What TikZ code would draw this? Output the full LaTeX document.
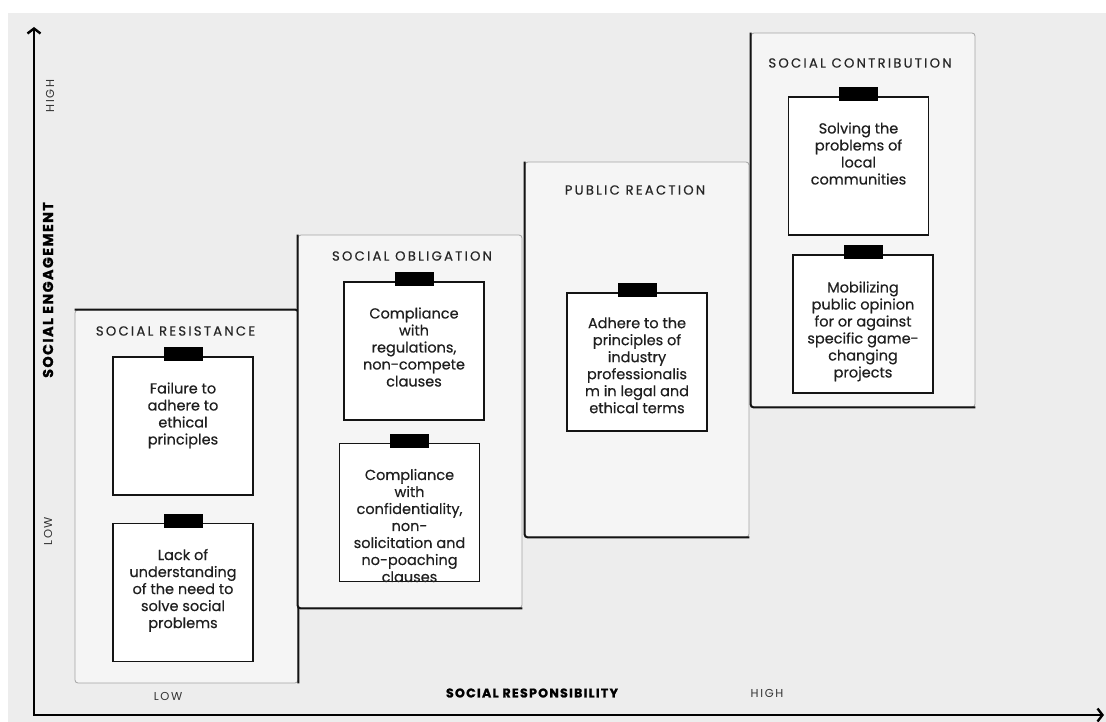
\documentclass[tikz,border=0pt]{standalone}
\usepackage{fontspec}
\setmainfont{Poppins}
\newfontfamily\notefont[FakeBold=0.4]{Poppins}
\newfontfamily\capsfont[LetterSpace=17, FakeBold=0.5]{Poppins}
\newfontfamily\axisfont[LetterSpace=10, FakeBold=1.2]{Poppins}
\newfontfamily\levelfont[LetterSpace=14]{Poppins}
\usepackage{xcolor}
\usepackage{tikz}
\usetikzlibrary{positioning, arrows.meta}
\definecolor{bggray}{HTML}{EDEDED}
\definecolor{panelgray}{HTML}{F5F5F5}
\definecolor{edgegray}{HTML}{A3A3A3}
\definecolor{inkblack}{HTML}{141414}

\tikzset{
  panel/.style={draw=edgegray, line width=0.8pt, fill=panelgray, rounded corners=3pt,
                inner sep=0pt, minimum width=224pt, minimum height=374pt},
  darkedge/.style={draw=inkblack, line width=2pt, rounded corners=3pt},
  paneltitle/.style={font=\capsfont\fontsize{13.2pt}{15pt}\selectfont, text=black!85, inner sep=0pt},
  note/.style={draw=inkblack, line width=1.5pt, fill=white, inner sep=0pt,
               minimum width=140pt, minimum height=138pt},
  tape/.style={fill=black, inner sep=0pt, minimum width=39pt, minimum height=14pt},
  notetext/.style={font=\notefont\fontsize{14.5pt}{17pt}\selectfont, text=black!88, align=center, inner sep=0pt},
  axislabel/.style={font=\axisfont\bfseries\fontsize{13pt}{15pt}\selectfont, text=black, inner sep=0pt},
  levellabel/.style={font=\levelfont\fontsize{11.5pt}{13pt}\selectfont, text=black!80, inner sep=0pt},
  axis/.style={draw=black, line width=2.4pt, line cap=round}
}

\begin{document}
\begin{tikzpicture}[x=1pt, y=-1pt]
  \useasboundingbox (0,0) rectangle (1106,722);
  \fill[white] (0,0) rectangle (1106,722);
  \fill[bggray] (8,13) rectangle (1106,722);

  % the four stages
  \node[panel, minimum width=223pt, minimum height=373pt] (resist) at (186.5,496.5) {};
  \draw[darkedge] (resist.north west) -- (resist.north east) -- (resist.south east);
  \node[panel, minimum height=373pt] (oblig) at (410,421.5) {};
  \draw[darkedge] (oblig.north west) -- (oblig.south west) -- (oblig.south east);
  \node[panel, minimum height=375pt] (react) at (637,349.5) {};
  \draw[darkedge] (react.north west) -- (react.south west) -- (react.south east);
  \node[panel] (contrib) at (863,220) {};
  \draw[darkedge] (contrib.north west) -- (contrib.south west) -- (contrib.south east);

  \node[paneltitle] (resisttitle) at (175.5,331) {SOCIAL RESISTANCE};
  \node[paneltitle] (obligtitle) at (412,256) {SOCIAL OBLIGATION};
  \node[paneltitle] (reacttitle) at (635,190) {PUBLIC REACTION};
  \node[paneltitle] (contribtitle) at (860,63) {SOCIAL CONTRIBUTION};

  % notes
  \node[note] (resistA) at (183,426) {};
  \node[tape] (resistAtape) at ([yshift=2pt]resistA.north) {};
  \node[notetext, below=26pt of resistA.north] (resistAtext) {Failure to\\adhere to\\ethical\\principles};

  \node[note] (resistB) at (183,592.5) {};
  \node[tape] (resistBtape) at ([yshift=2pt]resistB.north) {};
  \node[notetext, below=26pt of resistB.north] (resistBtext) {Lack of\\understanding\\of the need to\\solve social\\problems};

  \node[note] (obligA) at (414,351) {};
  \node[tape] (obligAtape) at ([yshift=2pt]obligA.north) {};
  \node[notetext, below=26pt of obligA.north] (obligAtext) {Compliance\\with\\regulations,\\non-compete\\clauses};

  \node[note] (obligB) at (409.5,512.5) {};
  \node[tape] (obligBtape) at ([yshift=2pt]obligB.north) {};
  \node[notetext, below=26pt of obligB.north] (obligBtext) {Compliance\\with\\confidentiality,\\non-\\solicitation and\\no-poaching\\clauses};

  \node[note] (reactA) at (637,362) {};
  \node[tape] (reactAtape) at ([yshift=2pt]reactA.north) {};
  \node[notetext, below=25pt of reactA.north] (reactAtext) {Adhere to the\\principles of\\industry\\professionalis\\m in legal and\\ethical terms};

  \node[note] (contribA) at (858.5,166) {};
  \node[tape] (contribAtape) at ([yshift=2pt]contribA.north) {};
  \node[notetext, below=26pt of contribA.north] (contribAtext) {Solving the\\problems of\\local\\communities};

  \node[note] (contribB) at (863,324) {};
  \node[tape] (contribBtape) at ([yshift=2pt]contribB.north) {};
  \node[notetext, below=27pt of contribB.north] (contribBtext) {Mobilizing\\public opinion\\for or against\\specific game-\\changing\\projects};

  % axes
  \coordinate (origin) at (34,715);
  \coordinate (ytip) at (34,27);
  \coordinate (xtip) at (1104,715);
  \draw[axis, {Straight Barb[length=5pt, width=13pt]}-{Straight Barb[length=5pt, width=13pt]}]
    (ytip) -- (origin) -- (xtip);

  \node[axislabel, rotate=90, font=\axisfont\bfseries\fontsize{14.3pt}{16pt}\selectfont] (ylabel) at (48,290) {SOCIAL ENGAGEMENT};
  \node[axislabel, font=\axisfont\bfseries\fontsize{12.6pt}{15pt}\selectfont] (xlabel) at (532,693) {SOCIAL RESPONSIBILITY};
  \node[levellabel, rotate=90] (yhigh) at (50,96) {HIGH};
  \node[levellabel, rotate=90] (ylow) at (48,531) {LOW};
  \node[levellabel] (xlow) at (168,696) {LOW};
  \node[levellabel] (xhigh) at (767,693) {HIGH};
\end{tikzpicture}
\end{document}
